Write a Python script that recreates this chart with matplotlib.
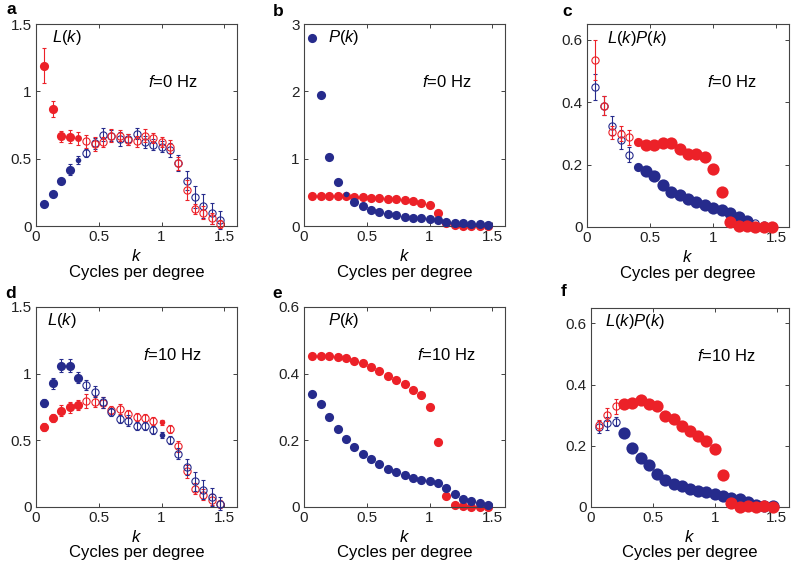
import numpy as np
import matplotlib
matplotlib.use("Agg")
import matplotlib.pyplot as plt
from matplotlib.ticker import FuncFormatter

plt.rcParams['font.family'] = ['Liberation Sans', 'DejaVu Sans']
plt.rcParams['mathtext.fontset'] = 'custom'
plt.rcParams['mathtext.it'] = 'Liberation Sans:italic'
plt.rcParams['mathtext.rm'] = 'Liberation Sans'

# spatial frequency k (cycles per degree)
k = [0.067, 0.133, 0.2, 0.267, 0.333, 0.4, 0.467, 0.533, 0.6, 0.667, 0.733,
     0.8, 0.867, 0.933, 1.0, 1.067, 1.133, 1.2, 1.267, 1.333, 1.4, 1.467]

# point type: 0 = open (n.s.), 1..4 = filled, increasing significance
# ---- a: L(k), f = 0 Hz
a_blue = [0.16, 0.24, 0.333, 0.417, 0.49, 0.54, 0.614, 0.678, 0.67, 0.645, 0.645,
          0.685, 0.625, 0.603, 0.59, 0.563, 0.465, 0.337, 0.214, 0.149, 0.094, 0.045]
a_blue_err = [0.01, 0.01, 0.015, 0.04, 0.03, 0.03, 0.04, 0.05, 0.04, 0.05, 0.04,
              0.04, 0.045, 0.04, 0.04, 0.05, 0.06, 0.07, 0.08, 0.09, 0.08, 0.07]
a_blue_sig = [3, 3, 3, 3, 1, 0, 0, 0, 0, 0, 0, 0, 0, 0, 0, 0, 0, 0, 0, 0, 0, 0]
a_red = [1.19, 0.866, 0.667, 0.663, 0.65, 0.628, 0.608, 0.623, 0.672, 0.672, 0.64,
         0.628, 0.672, 0.653, 0.623, 0.59, 0.465, 0.268, 0.127, 0.099, 0.057, 0.015]
a_red_err = [0.13, 0.06, 0.04, 0.05, 0.05, 0.05, 0.05, 0.04, 0.05, 0.04, 0.04,
             0.04, 0.045, 0.04, 0.04, 0.05, 0.05, 0.075, 0.04, 0.05, 0.04, 0.03]
a_red_sig = [3, 3, 3, 3, 2, 0, 0, 0, 0, 0, 0, 0, 0, 0, 0, 0, 0, 0, 0, 0, 0, 0]

# ---- b: P(k), f = 0 Hz
b_blue = [2.79, 1.95, 1.02, 0.656, 0.47, 0.362, 0.303, 0.238, 0.208, 0.183, 0.159,
          0.139, 0.124, 0.114, 0.104, 0.089, 0.064, 0.05, 0.04, 0.03, 0.025, 0.015]
b_blue_sig = [3, 3, 3, 3, 1, 3, 3, 3, 3, 3, 3, 3, 3, 3, 3, 3, 3, 3, 3, 3, 3, 3]
b_red = [0.45, 0.45, 0.45, 0.45, 0.45, 0.435, 0.427, 0.42, 0.413, 0.405, 0.395,
         0.383, 0.367, 0.345, 0.305, 0.2, 0.04, 0.01, 0.005, 0.005, 0.005, 0.005]
b_red_sig = [3, 3, 3, 3, 3, 3, 3, 3, 3, 3, 3, 3, 3, 3, 3, 3, 3, 3, 3, 3, 3, 3]

# ---- c: L(k)P(k), f = 0 Hz
c_blue = [0.448, 0.388, 0.324, 0.28, 0.232, 0.191, 0.179, 0.163, 0.135, 0.112, 0.101,
          0.09, 0.08, 0.069, 0.062, 0.055, 0.045, 0.032, 0.019, 0.012, 0.006, 0.003]
c_blue_err = [0.042, 0.03, 0.03, 0.03, 0.025, 0, 0, 0, 0, 0, 0,
              0, 0, 0, 0, 0, 0, 0, 0, 0.005, 0.005, 0.005]
c_blue_sig = [0, 0, 0, 0, 0, 3, 4, 4, 4, 4, 4, 4, 4, 4, 4, 4, 4, 4, 4, 0, 0, 0]
c_red = [0.535, 0.388, 0.303, 0.299, 0.287, 0.273, 0.262, 0.263, 0.269, 0.269, 0.25,
         0.235, 0.235, 0.225, 0.186, 0.111, 0.015, 0.002, 0.003, 0.0, 0.001, 0.0]
c_red_err = [0.064, 0.03, 0.02, 0.025, 0.025, 0, 0, 0, 0, 0, 0,
             0, 0, 0, 0, 0, 0, 0, 0, 0, 0, 0]
c_red_sig = [0, 0, 0, 0, 0, 3, 4, 4, 4, 4, 4, 4, 4, 4, 4, 4, 4, 4, 4, 4, 4, 4]

# ---- d: L(k), f = 10 Hz
d_blue = [0.783, 0.928, 1.06, 1.06, 0.97, 0.915, 0.865, 0.786, 0.711, 0.658, 0.648,
          0.608, 0.608, 0.579, 0.541, 0.504, 0.399, 0.299, 0.192, 0.13, 0.075, 0.025]
d_blue_err = [0.03, 0.04, 0.05, 0.05, 0.04, 0.04, 0.04, 0.04, 0.03, 0.03, 0.04,
              0.03, 0.03, 0.03, 0.02, 0.03, 0.04, 0.06, 0.07, 0.07, 0.07, 0.05]
d_blue_sig = [3, 3, 3, 3, 3, 0, 0, 0, 0, 0, 0, 0, 0, 0, 1, 0, 0, 0, 0, 0, 0, 0]
d_red = [0.603, 0.671, 0.723, 0.748, 0.766, 0.795, 0.79, 0.783, 0.728, 0.736, 0.696,
         0.678, 0.666, 0.648, 0.636, 0.584, 0.454, 0.267, 0.137, 0.092, 0.055, 0.022]
d_red_err = [0.03, 0.03, 0.04, 0.04, 0.04, 0.05, 0.04, 0.04, 0.03, 0.04, 0.03,
             0.03, 0.03, 0.03, 0.02, 0.03, 0.04, 0.05, 0.04, 0.04, 0.04, 0.03]
d_red_sig = [3, 3, 3, 3, 3, 0, 0, 0, 0, 0, 0, 0, 0, 0, 1, 0, 0, 0, 0, 0, 0, 0]

# ---- e: P(k), f = 10 Hz
e_blue = [0.34, 0.309, 0.269, 0.235, 0.205, 0.179, 0.159, 0.144, 0.129, 0.115, 0.105,
          0.097, 0.087, 0.082, 0.079, 0.072, 0.057, 0.039, 0.024, 0.019, 0.013, 0.007]
e_blue_sig = [3] * 22
e_red = [0.452, 0.454, 0.454, 0.451, 0.447, 0.437, 0.431, 0.419, 0.407, 0.394, 0.381,
         0.369, 0.352, 0.335, 0.301, 0.195, 0.032, 0.005, 0.002, 0.001, 0.0, 0.0]
e_red_sig = [3] * 22

# ---- f: L(k)P(k), f = 10 Hz
f_blue = [0.262, 0.273, 0.278, 0.241, 0.192, 0.16, 0.138, 0.107, 0.089, 0.076, 0.067,
          0.059, 0.051, 0.048, 0.042, 0.037, 0.029, 0.026, 0.016, 0.008, 0.004, 0.002]
f_blue_err = [0.02, 0.02, 0.015, 0, 0, 0, 0, 0, 0, 0, 0,
              0, 0, 0, 0, 0, 0, 0, 0, 0, 0, 0]
f_blue_sig = [0, 0, 0, 4, 4, 4, 4, 4, 4, 4, 4, 4, 4, 4, 4, 4, 4, 4, 4, 4, 4, 4]
f_red = [0.268, 0.302, 0.329, 0.336, 0.341, 0.349, 0.338, 0.331, 0.298, 0.289, 0.263,
         0.247, 0.232, 0.215, 0.19, 0.103, 0.013, 0.001, 0.002, 0.001, 0.002, 0.001]
f_red_err = [0.015, 0.02, 0.025, 0, 0, 0, 0, 0, 0, 0, 0,
             0, 0, 0, 0, 0, 0, 0, 0, 0, 0, 0]
f_red_sig = [0, 0, 0, 4, 4, 4, 4, 4, 4, 4, 4, 4, 4, 4, 4, 4, 4, 4, 4, 4, 4, 4]

BLUE = '#262b8c'
RED = '#ec2128'
SIZES = {1: 4.0, 2: 5.0, 3: 6.6, 4: 8.8}


def draw(ax, y, err, sig, color, z):
    x = np.array(k)
    y = np.array(y, dtype=float)
    sig = np.array(sig)
    if err is not None:
        e = np.array(err, dtype=float)
        m = e > 0
        ax.errorbar(x[m], y[m], yerr=e[m], fmt='none', ecolor=color, elinewidth=0.8,
                    capsize=1.6, capthick=0.8, zorder=z, clip_on=False)
    m = sig == 0
    if m.any():
        ax.plot(x[m], y[m], 'o', ms=5.2, mfc='none', mec=color, mew=0.8,
                linestyle='none', zorder=z + 0.1, clip_on=False)
    for code, ms in SIZES.items():
        m = sig == code
        if m.any():
            ax.plot(x[m], y[m], 'o', ms=ms, mfc=color, mec=color, mew=0.0,
                    linestyle='none', zorder=z + 0.2, clip_on=False)


fig = plt.figure(figsize=(8, 5.66), dpi=100)
W, H = 800.0, 566.0


def make_ax(l, r, t, b):
    return fig.add_axes([l / W, 1 - b / H, (r - l) / W, (b - t) / H])


axes = {
    'a': make_ax(36, 237, 24, 226),
    'b': make_ax(304, 505, 24, 226),
    'c': make_ax(587, 789, 24, 227),
    'd': make_ax(36, 237, 307, 507),
    'e': make_ax(304, 505, 307, 507),
    'f': make_ax(591, 789, 308, 507),
}

fmt = FuncFormatter(lambda v, p: ('%g' % round(v, 3)))
ylims = {'a': (1.5, [0, 0.5, 1, 1.5]), 'b': (3, [0, 1, 2, 3]),
         'c': (0.65, [0, 0.2, 0.4, 0.6]), 'd': (1.5, [0, 0.5, 1, 1.5]),
         'e': (0.6, [0, 0.2, 0.4, 0.6]), 'f': (0.65, [0, 0.2, 0.4, 0.6])}

for key, ax in axes.items():
    ax.set_xlim(0, 1.6)
    ax.set_ylim(0, ylims[key][0])
    ax.set_yticks(ylims[key][1])
    ax.set_xticks([0, 0.5, 1, 1.5])
    ax.xaxis.set_major_formatter(fmt)
    ax.yaxis.set_major_formatter(fmt)
    ax.tick_params(direction='in', top=True, right=True, length=3, width=0.6,
                   labelsize=11, colors='#222222', pad=3)
    for s in ax.spines.values():
        s.set_linewidth(0.8)
        s.set_color('#444444')
    ax.text(0.5, -0.15, '$k$', transform=ax.transAxes, ha='center', va='center',
            fontsize=12)
    ax.text(0.5, -0.228, 'Cycles per degree', transform=ax.transAxes, ha='center',
            va='center', fontsize=12)

# a
ax = axes['a']
draw(ax, a_blue, a_blue_err, a_blue_sig, BLUE, 2)
draw(ax, a_red, a_red_err, a_red_sig, RED, 3)
# b
ax = axes['b']
draw(ax, b_red, None, b_red_sig, RED, 2)
draw(ax, b_blue, None, b_blue_sig, BLUE, 3)
# c
ax = axes['c']
draw(ax, c_blue, c_blue_err, c_blue_sig, BLUE, 2)
draw(ax, c_red, c_red_err, c_red_sig, RED, 3)
# d
ax = axes['d']
draw(ax, d_red, d_red_err, d_red_sig, RED, 2)
draw(ax, d_blue, d_blue_err, d_blue_sig, BLUE, 3)
# e
ax = axes['e']
draw(ax, e_red, None, e_red_sig, RED, 2)
draw(ax, e_blue, None, e_blue_sig, BLUE, 3)
# f
ax = axes['f']
draw(ax, f_blue, f_blue_err, f_blue_sig, BLUE, 2)
draw(ax, f_red, f_red_err, f_red_sig, RED, 3)

# in-panel labels
labels = {
    'a': ('$L(k)$', 0.078, 0.935, '$f$=0 Hz', 0.68, 0.713),
    'b': ('$P(k)$', 0.12, 0.935, '$f$=0 Hz', 0.71, 0.713),
    'c': ('$L(k)P(k)$', 0.097, 0.93, '$f$=0 Hz', 0.716, 0.716),
    'd': ('$L(k)$', 0.053, 0.934, '$f$=10 Hz', 0.68, 0.76),
    'e': ('$P(k)$', 0.12, 0.934, '$f$=10 Hz', 0.71, 0.76),
    'f': ('$L(k)P(k)$', 0.07, 0.93, '$f$=10 Hz', 0.685, 0.76),
}
for key, (t1, x1, y1, t2, x2, y2) in labels.items():
    ax = axes[key]
    ax.text(x1, y1, t1, transform=ax.transAxes, ha='left', va='center', fontsize=12,
            zorder=10)
    ax.text(x2, y2, t2, transform=ax.transAxes, ha='center', va='center', fontsize=12,
            zorder=10)

# panel letters
for key, (px, py) in {'a': (11, 10), 'b': (278, 11), 'c': (567, 11),
                      'd': (11, 293), 'e': (277, 293), 'f': (564, 292)}.items():
    fig.text(px / W, 1 - py / H, key, ha='center', va='center', fontsize=12.5,
             fontweight='bold')

fig.savefig('out.png', dpi=100)
